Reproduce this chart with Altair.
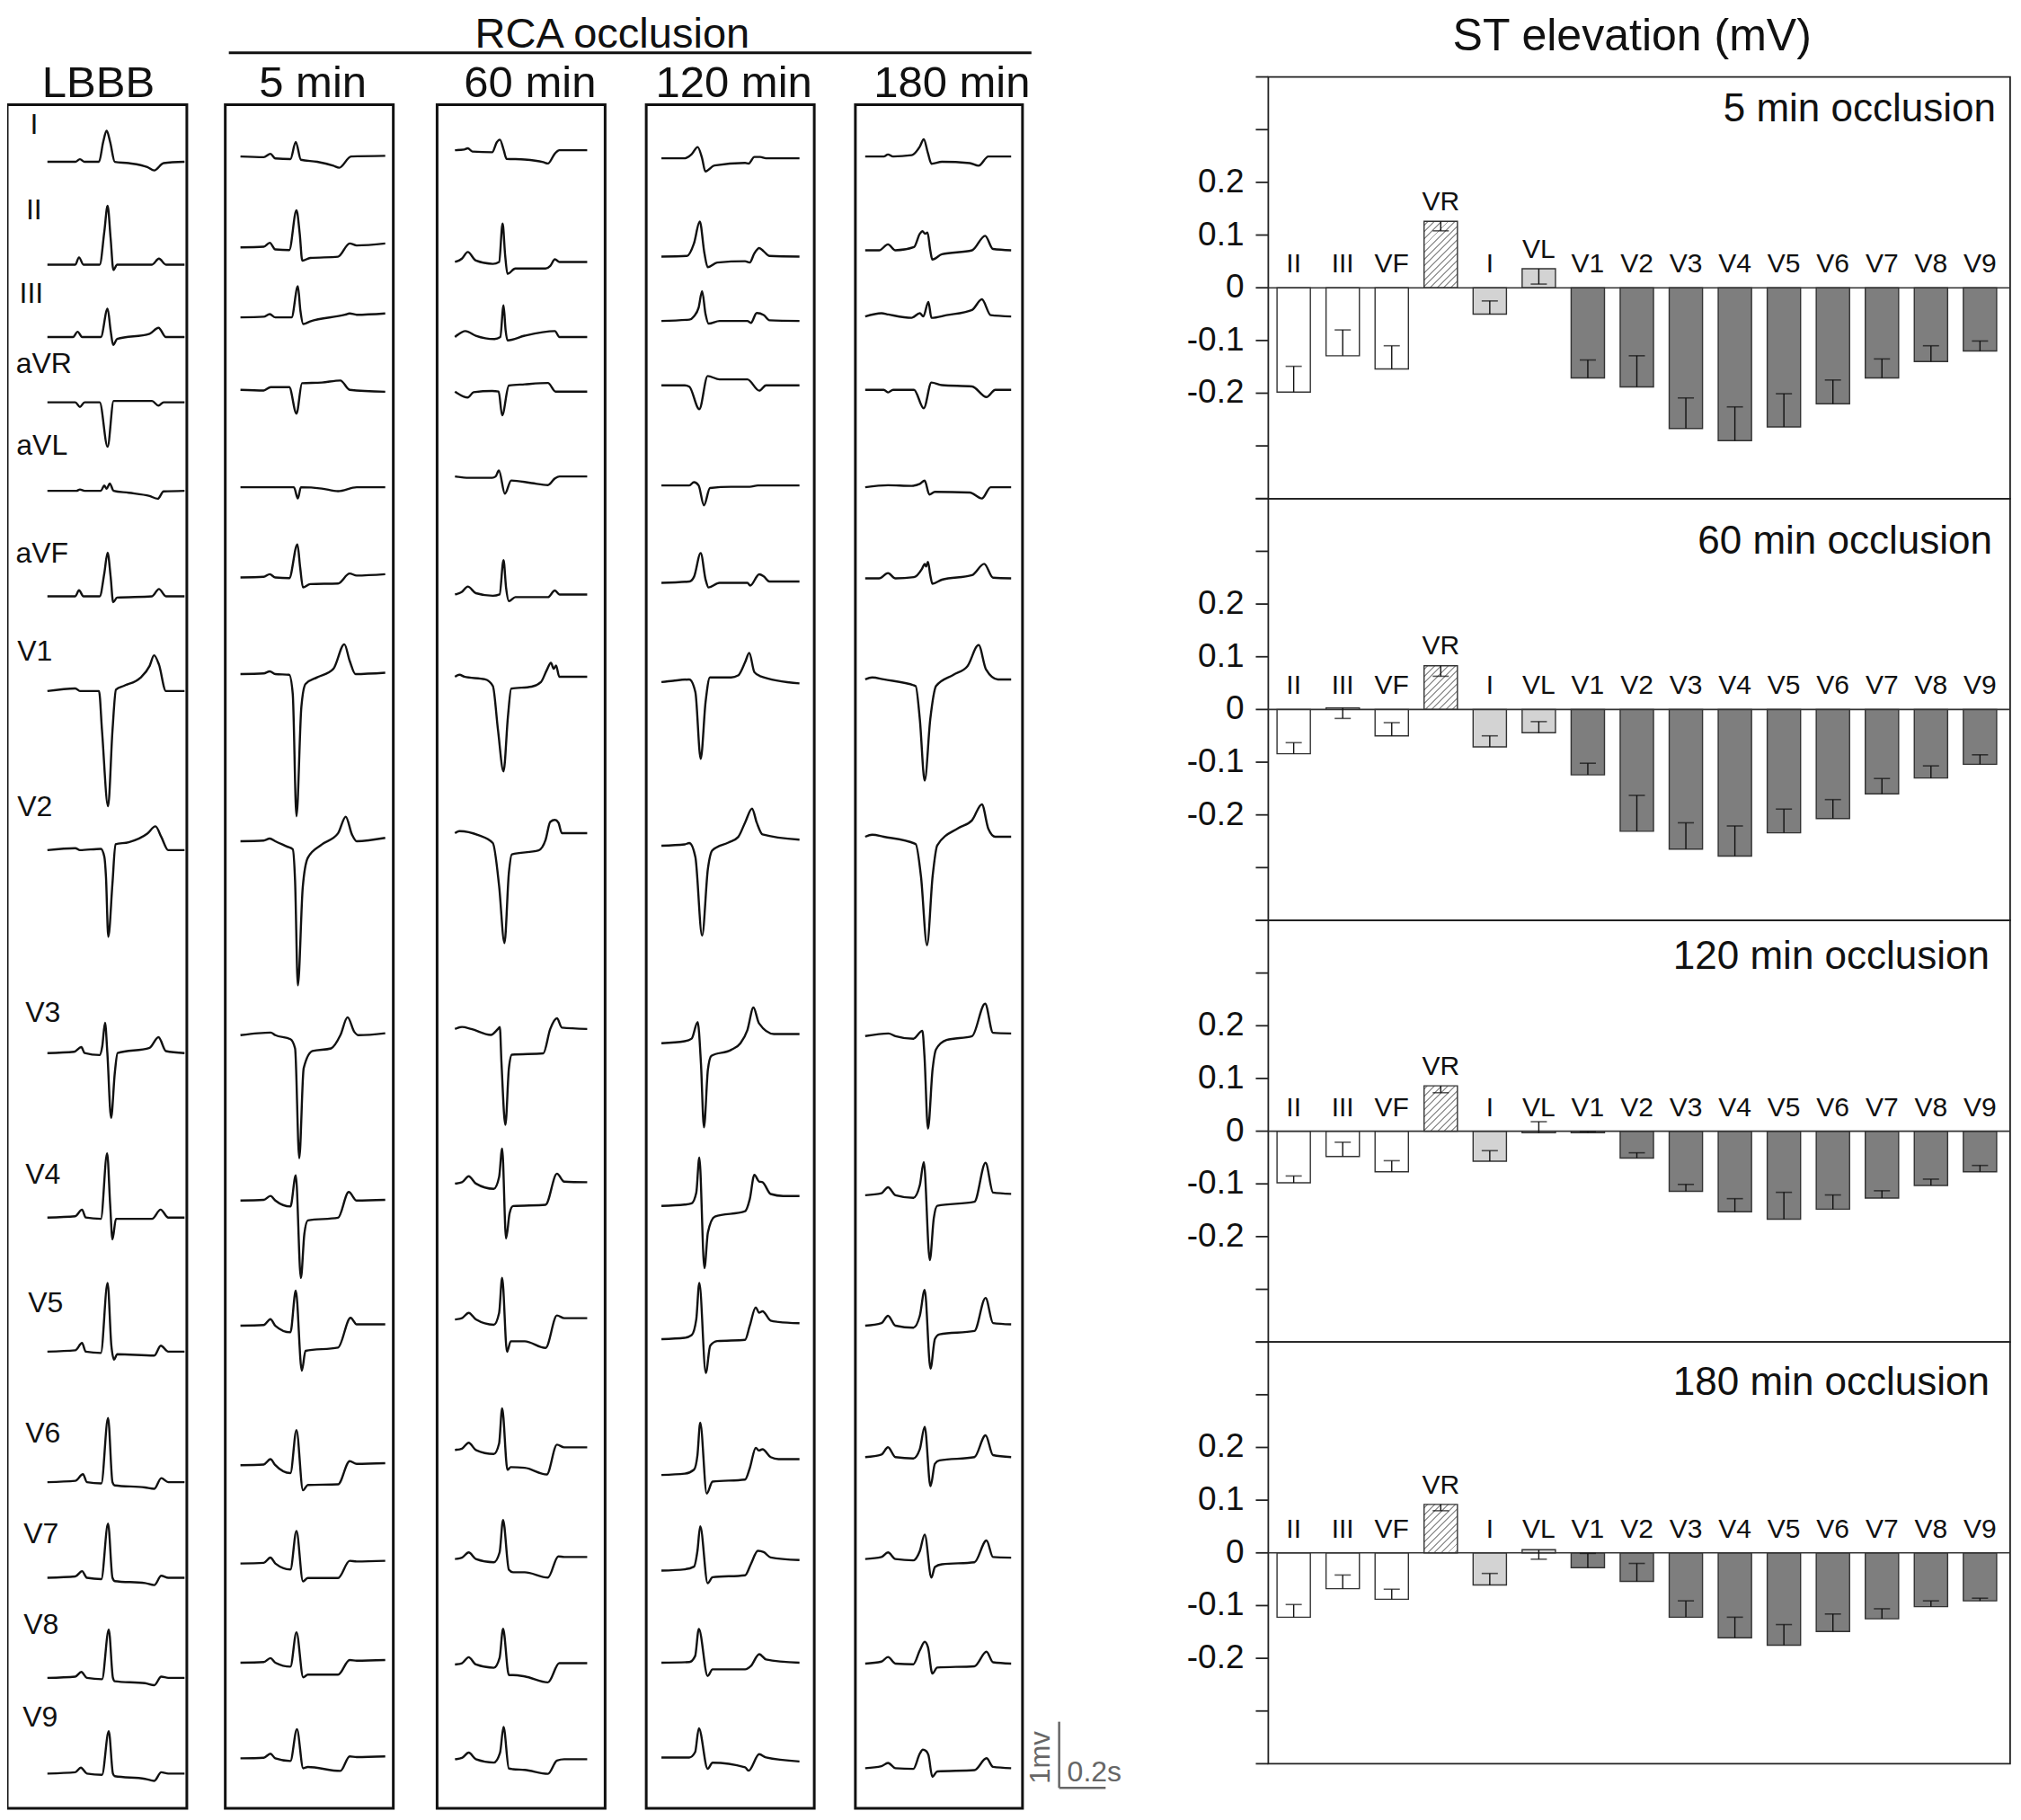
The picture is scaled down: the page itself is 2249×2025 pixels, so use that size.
import altair as alt
import numpy as np
import pandas as pd

# ============================ DATA ============================
# --- ST elevation bar panels (mV) ---
BAR_LEADS = ["II", "III", "VF", "VR", "I", "VL", "V1", "V2", "V3", "V4", "V5", "V6", "V7", "V8", "V9"]
PANEL_TITLES = ["5 min occlusion", "60 min occlusion", "120 min occlusion", "180 min occlusion"]
ST_5 = [-0.198, -0.129, -0.154, 0.126, -0.050, 0.036, -0.171, -0.188, -0.267, -0.290, -0.264, -0.220, -0.171, -0.140, -0.120]
ERR_5 = [-0.149, -0.080, -0.110, 0.108, -0.025, 0.007, -0.137, -0.129, -0.209, -0.226, -0.201, -0.175, -0.135, -0.110, -0.101]
ST_60 = [-0.084, 0.003, -0.050, 0.083, -0.071, -0.044, -0.124, -0.231, -0.265, -0.278, -0.234, -0.207, -0.160, -0.130, -0.104]
ERR_60 = [-0.063, -0.017, -0.025, 0.063, -0.050, -0.023, -0.102, -0.163, -0.215, -0.221, -0.189, -0.171, -0.131, -0.107, -0.086]
ST_120 = [-0.098, -0.048, -0.077, 0.086, -0.057, -0.003, -0.003, -0.051, -0.114, -0.153, -0.167, -0.148, -0.127, -0.103, -0.077]
ERR_120 = [-0.085, -0.021, -0.056, 0.073, -0.037, 0.018, -0.001, -0.041, -0.101, -0.128, -0.116, -0.121, -0.113, -0.091, -0.065]
ST_180 = [-0.122, -0.068, -0.088, 0.092, -0.061, 0.006, -0.028, -0.054, -0.122, -0.161, -0.175, -0.149, -0.125, -0.102, -0.091]
ERR_180 = [-0.098, -0.042, -0.069, 0.080, -0.039, -0.012, -0.001, -0.020, -0.091, -0.122, -0.136, -0.116, -0.106, -0.091, -0.086]
Y_TICKS = [-0.4, -0.3, -0.2, -0.1, 0.0, 0.1, 0.2, 0.3, 0.4]
Y_TICK_LABELS = {-0.2: "-0.2", -0.1: "-0.1", 0.0: "0", 0.1: "0.1", 0.2: "0.2"}

# --- ECG traces: (time s, amplitude mV) key points ---
ECG_LEADS = ["I", "II", "III", "aVR", "aVL", "aVF", "V1", "V2", "V3", "V4", "V5", "V6", "V7", "V8", "V9"]
ECG_COLS = ["LBBB", "5 min", "60 min", "120 min", "180 min"]

ECG_LBBB = {
    "I": [(0, 0), (0.12, 0), (0.14, 0.04), (0.16, 0), (0.222, 0), (0.24, 0.3), (0.255, 0.47), (0.27, 0.3), (0.29, 0.0), (0.35, -0.02), (0.43, -0.08), (0.46, -0.13), (0.5, -0.02), (0.59, 0)],
    "II": [(0, 0), (0.12, 0), (0.136, 0.11), (0.155, 0), (0.225, 0), (0.245, 0.5), (0.259, 0.89), (0.272, 0.4), (0.284, -0.08), (0.3, 0), (0.45, 0.0), (0.48, 0.09), (0.51, 0), (0.59, 0)],
    "III": [(0, 0), (0.11, 0), (0.13, 0.08), (0.15, 0), (0.23, 0), (0.259, 0.43), (0.272, 0.1), (0.283, -0.12), (0.3, -0.03), (0.44, 0.05), (0.478, 0.14), (0.51, 0), (0.59, 0)],
    "aVR": [(0, 0), (0.12, 0), (0.14, -0.07), (0.16, 0), (0.225, 0), (0.259, -0.67), (0.285, 0.02), (0.45, 0.02), (0.478, -0.05), (0.5, 0), (0.59, 0)],
    "aVL": [(0, 0), (0.125, 0), (0.14, 0.02), (0.16, 0), (0.23, 0), (0.245, 0.08), (0.255, 0.03), (0.268, 0.11), (0.285, 0.0), (0.35, -0.03), (0.44, -0.08), (0.475, -0.12), (0.5, -0.01), (0.59, 0)],
    "aVF": [(0, 0), (0.12, 0), (0.136, 0.09), (0.155, 0), (0.225, 0), (0.245, 0.35), (0.259, 0.66), (0.272, 0.3), (0.283, -0.09), (0.3, -0.02), (0.45, 0.0), (0.48, 0.11), (0.51, 0), (0.59, 0)],
    "V1": [(0, 0), (0.12, 0.04), (0.14, 0), (0.222, 0), (0.235, -0.6), (0.261, -1.74), (0.28, -0.6), (0.295, 0.02), (0.33, 0.08), (0.4, 0.2), (0.44, 0.38), (0.459, 0.54), (0.48, 0.4), (0.51, 0), (0.59, 0)],
    "V2": [(0, 0), (0.12, 0.03), (0.14, 0), (0.23, 0.02), (0.245, -0.1), (0.252, -0.4), (0.262, -1.31), (0.28, -0.5), (0.293, 0.09), (0.35, 0.12), (0.43, 0.25), (0.465, 0.36), (0.49, 0.2), (0.52, 0), (0.59, 0)],
    "V3": [(0, 0), (0.115, 0.02), (0.146, 0.09), (0.16, 0), (0.225, -0.03), (0.236, 0.1), (0.248, 0.46), (0.258, 0.0), (0.274, -0.98), (0.29, -0.3), (0.302, 0.0), (0.44, 0.08), (0.478, 0.24), (0.51, 0.03), (0.59, 0)],
    "V4": [(0, 0), (0.12, 0.02), (0.149, 0.12), (0.165, 0), (0.23, -0.02), (0.257, 0.97), (0.27, 0.2), (0.28, -0.33), (0.295, -0.02), (0.45, -0.02), (0.487, 0.12), (0.52, 0), (0.59, 0)],
    "V5": [(0, 0), (0.12, 0.02), (0.149, 0.13), (0.165, 0), (0.23, -0.02), (0.259, 1.04), (0.275, 0.1), (0.287, -0.12), (0.3, -0.04), (0.46, -0.06), (0.488, 0.09), (0.52, 0), (0.59, 0)],
    "V6": [(0, 0), (0.12, 0.02), (0.153, 0.12), (0.17, 0), (0.232, -0.02), (0.261, 0.97), (0.28, 0.0), (0.29, -0.05), (0.42, -0.08), (0.46, -0.1), (0.49, 0.06), (0.52, 0), (0.59, 0)],
    "V7": [(0, 0), (0.12, 0.02), (0.149, 0.1), (0.17, 0), (0.232, -0.02), (0.261, 0.82), (0.28, 0.0), (0.29, -0.05), (0.42, -0.08), (0.46, -0.11), (0.49, 0.03), (0.52, 0), (0.59, 0)],
    "V8": [(0, 0), (0.12, 0.02), (0.146, 0.09), (0.17, 0), (0.235, -0.02), (0.264, 0.73), (0.282, 0.0), (0.29, -0.05), (0.42, -0.08), (0.46, -0.11), (0.49, 0.02), (0.52, 0), (0.59, 0)],
    "V9": [(0, 0), (0.12, 0.02), (0.144, 0.09), (0.17, 0), (0.235, -0.02), (0.264, 0.64), (0.282, 0.0), (0.29, -0.04), (0.42, -0.08), (0.46, -0.11), (0.49, 0.02), (0.52, 0), (0.59, 0)],
}

ECG_5 = {
    "I": [(0, 0), (0.1, -0.01), (0.129, 0.04), (0.15, -0.03), (0.215, -0.04), (0.238, 0.22), (0.26, -0.05), (0.33, -0.08), (0.4, -0.14), (0.425, -0.17), (0.476, 0.0), (0.623, 0.01)],
    "II": [(0, -0.01), (0.1, 0.0), (0.126, 0.06), (0.15, -0.04), (0.21, -0.05), (0.241, 0.55), (0.255, 0.2), (0.266, -0.21), (0.3, -0.17), (0.42, -0.15), (0.47, 0.05), (0.5, 0.02), (0.623, 0.05)],
    "III": [(0, 0), (0.1, 0.01), (0.126, 0.05), (0.15, 0.0), (0.22, 0.0), (0.247, 0.47), (0.258, 0.1), (0.27, -0.1), (0.3, -0.06), (0.45, 0.04), (0.47, 0.06), (0.5, 0.04), (0.623, 0.06)],
    "aVR": [(0, 0), (0.1, -0.01), (0.13, 0.04), (0.15, 0.04), (0.21, 0.04), (0.241, -0.36), (0.265, 0.1), (0.35, 0.11), (0.43, 0.14), (0.47, 0.0), (0.623, -0.03)],
    "aVL": [(0, 0), (0.12, 0.0), (0.23, 0.0), (0.247, -0.17), (0.26, 0.0), (0.35, -0.02), (0.42, -0.06), (0.5, 0.0), (0.623, 0.0)],
    "aVF": [(0, 0), (0.1, 0.01), (0.126, 0.05), (0.15, 0.0), (0.21, -0.01), (0.245, 0.5), (0.257, 0.15), (0.269, -0.15), (0.3, -0.1), (0.42, -0.09), (0.47, 0.06), (0.5, 0.03), (0.623, 0.05)],
    "V1": [(0, 0), (0.1, 0.01), (0.126, 0.04), (0.15, 0.0), (0.21, -0.01), (0.225, -0.3), (0.241, -2.15), (0.262, -0.5), (0.28, -0.15), (0.33, -0.05), (0.4, 0.08), (0.447, 0.45), (0.47, 0.2), (0.495, 0.0), (0.623, 0.02)],
    "V2": [(0, 0), (0.1, 0.01), (0.126, 0.04), (0.15, 0.0), (0.2, -0.08), (0.225, -0.12), (0.235, -0.6), (0.247, -2.18), (0.268, -0.7), (0.29, -0.25), (0.35, -0.05), (0.42, 0.12), (0.453, 0.37), (0.48, 0.1), (0.5, 0.0), (0.623, 0.05)],
    "V3": [(0, 0), (0.075, 0.03), (0.13, 0.04), (0.15, 0.0), (0.215, -0.06), (0.235, -0.2), (0.253, -1.86), (0.272, -0.5), (0.31, -0.24), (0.39, -0.2), (0.43, 0.0), (0.461, 0.27), (0.49, 0.05), (0.508, 0.0), (0.623, 0.03)],
    "V4": [(0, 0), (0.1, 0.01), (0.129, 0.07), (0.15, 0.0), (0.215, -0.09), (0.238, 0.38), (0.26, -1.17), (0.275, -0.5), (0.29, -0.3), (0.42, -0.26), (0.466, 0.13), (0.5, 0.0), (0.623, 0.01)],
    "V5": [(0, 0), (0.1, 0.01), (0.129, 0.1), (0.15, 0.0), (0.215, -0.1), (0.238, 0.53), (0.264, -0.68), (0.28, -0.38), (0.42, -0.33), (0.474, 0.12), (0.5, 0.02), (0.623, 0.02)],
    "V6": [(0, 0), (0.1, 0.01), (0.129, 0.09), (0.15, 0.0), (0.215, -0.12), (0.241, 0.53), (0.269, -0.38), (0.29, -0.3), (0.42, -0.29), (0.47, 0.06), (0.5, 0.02), (0.623, 0.03)],
    "V7": [(0, 0), (0.1, 0.01), (0.129, 0.09), (0.15, 0.0), (0.215, -0.09), (0.241, 0.49), (0.269, -0.27), (0.29, -0.22), (0.42, -0.22), (0.47, 0.04), (0.5, 0.03), (0.623, 0.04)],
    "V8": [(0, 0), (0.1, 0.01), (0.129, 0.07), (0.15, 0.0), (0.215, -0.06), (0.241, 0.46), (0.27, -0.22), (0.29, -0.18), (0.42, -0.18), (0.47, 0.04), (0.5, 0.03), (0.623, 0.04)],
    "V9": [(0, 0), (0.1, 0.01), (0.129, 0.07), (0.15, 0.0), (0.215, -0.04), (0.243, 0.44), (0.27, -0.15), (0.29, -0.13), (0.43, -0.19), (0.47, 0.03), (0.5, 0.02), (0.623, 0.03)],
}

ECG_60 = {
    "I": [(0, 0), (0.04, 0.01), (0.055, 0.03), (0.075, -0.02), (0.16, -0.03), (0.18, 0.12), (0.193, 0.16), (0.21, 0.0), (0.222, -0.13), (0.3, -0.14), (0.38, -0.18), (0.4, -0.2), (0.43, -0.05), (0.449, 0.0), (0.569, 0.0)],
    "II": [(0, 0), (0.03, 0.05), (0.055, 0.15), (0.09, 0.02), (0.163, -0.03), (0.19, 0.0), (0.205, 0.58), (0.216, 0.1), (0.226, -0.18), (0.26, -0.1), (0.39, -0.1), (0.41, -0.06), (0.43, 0.04), (0.45, 0.0), (0.569, 0.0)],
    "III": [(0, 0), (0.045, 0.09), (0.09, 0.02), (0.17, -0.03), (0.195, 0.0), (0.209, 0.48), (0.218, 0.1), (0.226, -0.05), (0.3, 0.02), (0.43, 0.09), (0.45, 0.0), (0.569, 0.0)],
    "aVR": [(0, 0), (0.055, -0.09), (0.08, -0.01), (0.16, 0.01), (0.188, 0.0), (0.203, -0.36), (0.232, 0.09), (0.3, 0.11), (0.4, 0.13), (0.433, 0.0), (0.569, 0.0)],
    "aVL": [(0, 0), (0.06, -0.02), (0.16, -0.02), (0.175, 0.0), (0.189, 0.09), (0.215, -0.26), (0.242, -0.06), (0.33, -0.1), (0.4, -0.13), (0.43, -0.03), (0.45, 0.0), (0.569, 0.0)],
    "aVF": [(0, 0), (0.03, 0.04), (0.055, 0.12), (0.09, 0.02), (0.163, -0.02), (0.192, 0.0), (0.209, 0.52), (0.22, 0.1), (0.232, -0.1), (0.26, -0.04), (0.4, -0.04), (0.43, 0.06), (0.45, 0.0), (0.569, 0.0)],
    "V1": [(0, 0), (0.02, 0.03), (0.04, 0.0), (0.13, -0.04), (0.163, -0.14), (0.185, -0.8), (0.209, -1.43), (0.228, -0.6), (0.242, -0.18), (0.33, -0.15), (0.37, -0.08), (0.395, 0.1), (0.413, 0.21), (0.425, 0.12), (0.435, 0.17), (0.449, 0.0), (0.569, 0.0)],
    "V2": [(0, 0), (0.02, 0.03), (0.1, -0.03), (0.163, -0.15), (0.19, -0.8), (0.213, -1.66), (0.232, -0.6), (0.245, -0.32), (0.36, -0.26), (0.39, -0.1), (0.41, 0.17), (0.43, 0.2), (0.445, 0.16), (0.46, 0.0), (0.569, 0.0)],
    "V3": [(0, 0), (0.03, 0.03), (0.07, 0.0), (0.154, -0.09), (0.185, 0.0), (0.193, 0.03), (0.2, -0.5), (0.217, -1.45), (0.232, -0.6), (0.245, -0.39), (0.38, -0.37), (0.41, 0.0), (0.439, 0.16), (0.46, 0.02), (0.569, 0.0)],
    "V4": [(0, 0), (0.03, 0.02), (0.059, 0.11), (0.09, 0.0), (0.167, -0.08), (0.19, 0.1), (0.203, 0.53), (0.22, -0.83), (0.235, -0.45), (0.25, -0.34), (0.39, -0.32), (0.439, 0.15), (0.47, 0.03), (0.569, 0.02)],
    "V5": [(0, 0), (0.03, 0.02), (0.059, 0.1), (0.09, 0.0), (0.167, -0.08), (0.19, 0.1), (0.203, 0.63), (0.224, -0.49), (0.24, -0.33), (0.3, -0.33), (0.39, -0.43), (0.439, 0.06), (0.47, 0.02), (0.569, 0.02)],
    "V6": [(0, 0), (0.03, 0.02), (0.059, 0.11), (0.09, 0.0), (0.167, -0.06), (0.19, 0.1), (0.203, 0.63), (0.226, -0.3), (0.24, -0.26), (0.3, -0.27), (0.395, -0.37), (0.439, 0.08), (0.47, 0.04), (0.569, 0.04)],
    "V7": [(0, 0), (0.03, 0.02), (0.059, 0.1), (0.09, 0.0), (0.167, -0.05), (0.192, 0.1), (0.207, 0.59), (0.232, -0.16), (0.25, -0.2), (0.3, -0.2), (0.4, -0.28), (0.445, 0.04), (0.47, 0.03), (0.569, 0.03)],
    "V8": [(0, 0), (0.03, 0.02), (0.059, 0.11), (0.09, 0.0), (0.167, -0.05), (0.192, 0.1), (0.207, 0.54), (0.232, -0.16), (0.25, -0.16), (0.3, -0.18), (0.4, -0.27), (0.449, 0.02), (0.47, 0.02), (0.569, 0.02)],
    "V9": [(0, 0), (0.03, 0.02), (0.059, 0.1), (0.09, 0.0), (0.167, -0.05), (0.194, 0.1), (0.209, 0.49), (0.232, -0.14), (0.25, -0.15), (0.3, -0.16), (0.4, -0.22), (0.439, -0.02), (0.47, 0.0), (0.569, 0.0)],
}

ECG_120 = {
    "I": [(0, 0), (0.1, 0.0), (0.13, 0.06), (0.156, 0.17), (0.175, 0.0), (0.189, -0.2), (0.228, -0.11), (0.36, -0.07), (0.375, -0.08), (0.4, 0.02), (0.425, 0.02), (0.45, 0.0), (0.594, 0.0)],
    "II": [(0, 0), (0.11, 0.01), (0.14, 0.2), (0.165, 0.53), (0.185, 0.05), (0.199, -0.16), (0.24, -0.09), (0.36, -0.07), (0.38, -0.09), (0.4, 0.05), (0.421, 0.13), (0.44, 0.08), (0.465, 0.01), (0.594, 0.0)],
    "III": [(0, 0), (0.12, 0.02), (0.14, 0.07), (0.16, 0.2), (0.175, 0.45), (0.19, 0.1), (0.203, -0.04), (0.25, 0.0), (0.37, 0.0), (0.385, -0.03), (0.41, 0.12), (0.44, 0.09), (0.465, 0.01), (0.594, 0.0)],
    "aVR": [(0, 0), (0.1, 0.0), (0.12, -0.02), (0.163, -0.36), (0.199, 0.14), (0.25, 0.09), (0.37, 0.09), (0.421, -0.08), (0.45, 0.0), (0.594, 0.0)],
    "aVL": [(0, 0), (0.12, 0.0), (0.14, 0.05), (0.16, 0.0), (0.183, -0.3), (0.209, -0.04), (0.3, -0.02), (0.38, -0.02), (0.415, 0.0), (0.594, 0.0)],
    "aVF": [(0, 0), (0.12, 0.02), (0.14, 0.09), (0.169, 0.45), (0.19, 0.05), (0.203, -0.07), (0.25, 0.0), (0.37, 0.0), (0.382, -0.04), (0.421, 0.13), (0.44, 0.1), (0.465, 0.02), (0.594, 0.02)],
    "V1": [(0, 0), (0.05, 0.02), (0.12, 0.04), (0.146, -0.15), (0.169, -1.16), (0.19, -0.3), (0.209, 0.07), (0.3, 0.07), (0.33, 0.1), (0.36, 0.3), (0.378, 0.44), (0.4, 0.15), (0.425, 0.09), (0.594, -0.02)],
    "V2": [(0, 0), (0.1, 0.02), (0.12, 0.04), (0.146, -0.17), (0.175, -1.36), (0.2, -0.35), (0.219, -0.07), (0.29, 0.05), (0.33, 0.13), (0.36, 0.35), (0.39, 0.56), (0.41, 0.35), (0.435, 0.17), (0.594, 0.09)],
    "V3": [(0, 0), (0.1, 0.03), (0.13, 0.07), (0.156, 0.32), (0.17, -0.3), (0.183, -1.27), (0.2, -0.4), (0.215, -0.19), (0.3, -0.1), (0.34, 0.0), (0.37, 0.2), (0.396, 0.54), (0.42, 0.3), (0.484, 0.14), (0.594, 0.14)],
    "V4": [(0, 0), (0.1, 0.02), (0.13, 0.04), (0.15, 0.2), (0.163, 0.73), (0.185, -0.94), (0.2, -0.4), (0.23, -0.16), (0.36, -0.08), (0.38, 0.1), (0.4, 0.47), (0.42, 0.37), (0.435, 0.36), (0.47, 0.18), (0.524, 0.15), (0.594, 0.15)],
    "V5": [(0, 0), (0.1, 0.02), (0.13, 0.06), (0.15, 0.3), (0.163, 0.85), (0.191, -0.51), (0.21, -0.1), (0.24, -0.03), (0.36, -0.01), (0.38, 0.2), (0.406, 0.48), (0.42, 0.4), (0.435, 0.42), (0.47, 0.28), (0.504, 0.26), (0.594, 0.24)],
    "V6": [(0, 0), (0.1, 0.02), (0.14, 0.08), (0.155, 0.3), (0.167, 0.79), (0.195, -0.28), (0.22, -0.1), (0.36, -0.07), (0.38, 0.1), (0.406, 0.41), (0.42, 0.37), (0.435, 0.39), (0.47, 0.27), (0.504, 0.24), (0.594, 0.24)],
    "V7": [(0, 0), (0.1, 0.02), (0.14, 0.06), (0.155, 0.3), (0.167, 0.67), (0.199, -0.19), (0.22, -0.1), (0.36, -0.07), (0.385, 0.1), (0.415, 0.3), (0.44, 0.28), (0.47, 0.2), (0.594, 0.16)],
    "V8": [(0, 0), (0.12, 0.01), (0.145, 0.1), (0.161, 0.51), (0.199, -0.2), (0.22, -0.1), (0.36, -0.1), (0.385, -0.05), (0.421, 0.13), (0.45, 0.05), (0.594, 0.0)],
    "V9": [(0, 0), (0.12, 0.0), (0.145, 0.08), (0.161, 0.44), (0.199, -0.17), (0.22, -0.08), (0.36, -0.15), (0.375, -0.2), (0.421, 0.05), (0.45, 0.0), (0.594, -0.06)],
}

ECG_180 = {
    "I": [(0, 0), (0.08, 0.0), (0.098, 0.03), (0.12, 0.0), (0.2, 0.02), (0.235, 0.15), (0.252, 0.26), (0.27, 0.05), (0.285, -0.11), (0.33, -0.08), (0.45, -0.1), (0.488, -0.14), (0.53, 0.0), (0.628, 0.0)],
    "II": [(0, 0), (0.06, 0.0), (0.098, 0.09), (0.13, 0.0), (0.21, 0.05), (0.235, 0.25), (0.246, 0.29), (0.258, 0.25), (0.268, 0.27), (0.28, 0.0), (0.289, -0.14), (0.33, -0.06), (0.46, 0.0), (0.516, 0.22), (0.55, 0.02), (0.628, 0.0)],
    "III": [(0, 0), (0.07, 0.05), (0.1, 0.03), (0.2, -0.02), (0.235, 0.05), (0.25, 0.0), (0.272, 0.22), (0.285, -0.02), (0.35, 0.02), (0.46, 0.1), (0.502, 0.26), (0.54, 0.02), (0.628, 0.0)],
    "aVR": [(0, 0), (0.08, 0.0), (0.098, -0.04), (0.12, 0.0), (0.21, 0.0), (0.252, -0.28), (0.285, 0.11), (0.33, 0.07), (0.46, 0.05), (0.522, -0.11), (0.56, 0.0), (0.628, 0.0)],
    "aVL": [(0, 0), (0.098, 0.03), (0.2, 0.02), (0.235, 0.05), (0.256, 0.1), (0.276, -0.11), (0.3, -0.07), (0.45, -0.08), (0.502, -0.17), (0.54, 0.0), (0.628, 0.0)],
    "aVF": [(0, 0), (0.06, 0.0), (0.098, 0.08), (0.13, 0.0), (0.21, 0.02), (0.245, 0.15), (0.256, 0.22), (0.262, 0.18), (0.27, 0.25), (0.28, 0.05), (0.289, -0.08), (0.33, -0.02), (0.46, 0.05), (0.512, 0.22), (0.55, 0.01), (0.628, 0.0)],
    "V1": [(0, 0), (0.03, 0.03), (0.08, 0.0), (0.217, -0.1), (0.235, -0.6), (0.256, -1.53), (0.28, -0.6), (0.305, -0.1), (0.38, 0.07), (0.44, 0.2), (0.488, 0.52), (0.52, 0.15), (0.571, 0.0), (0.628, 0.0)],
    "V2": [(0, 0), (0.03, 0.03), (0.08, 0.0), (0.217, -0.11), (0.24, -0.6), (0.266, -1.64), (0.29, -0.6), (0.31, -0.13), (0.4, 0.13), (0.46, 0.25), (0.502, 0.49), (0.53, 0.12), (0.56, 0.0), (0.628, 0.0)],
    "V3": [(0, 0), (0.1, 0.04), (0.13, 0.0), (0.207, -0.04), (0.246, 0.08), (0.255, -0.3), (0.27, -1.4), (0.29, -0.5), (0.305, -0.2), (0.35, -0.06), (0.46, 0.0), (0.516, 0.49), (0.55, 0.05), (0.628, 0.04)],
    "V4": [(0, 0), (0.07, 0.03), (0.098, 0.12), (0.13, 0.0), (0.207, -0.04), (0.235, 0.15), (0.252, 0.5), (0.278, -0.98), (0.295, -0.35), (0.31, -0.16), (0.47, -0.1), (0.518, 0.49), (0.55, 0.04), (0.628, 0.02)],
    "V5": [(0, 0), (0.07, 0.04), (0.098, 0.15), (0.13, 0.0), (0.207, -0.03), (0.235, 0.15), (0.256, 0.54), (0.281, -0.65), (0.3, -0.2), (0.32, -0.13), (0.47, -0.08), (0.518, 0.42), (0.55, 0.04), (0.628, 0.02)],
    "V6": [(0, 0), (0.07, 0.04), (0.098, 0.15), (0.13, 0.0), (0.207, -0.02), (0.235, 0.12), (0.256, 0.46), (0.281, -0.44), (0.3, -0.1), (0.32, -0.05), (0.47, 0.0), (0.518, 0.33), (0.55, 0.03), (0.628, 0.0)],
    "V7": [(0, 0), (0.07, 0.03), (0.098, 0.1), (0.13, 0.0), (0.207, -0.02), (0.235, 0.12), (0.256, 0.37), (0.285, -0.28), (0.3, -0.12), (0.33, -0.08), (0.47, -0.05), (0.522, 0.28), (0.55, 0.03), (0.628, 0.02)],
    "V8": [(0, 0), (0.07, 0.03), (0.098, 0.1), (0.13, 0.0), (0.207, -0.01), (0.235, 0.2), (0.256, 0.33), (0.27, 0.25), (0.289, -0.15), (0.31, -0.06), (0.47, -0.04), (0.522, 0.18), (0.55, 0.02), (0.628, 0.0)],
    "V9": [(0, 0), (0.07, 0.03), (0.098, 0.08), (0.13, 0.0), (0.207, -0.01), (0.235, 0.22), (0.248, 0.28), (0.262, 0.26), (0.272, 0.2), (0.289, -0.13), (0.31, -0.05), (0.47, -0.03), (0.522, 0.15), (0.55, 0.02), (0.628, 0.0)],
}
SCALE_BAR_S = 0.2
SCALE_BAR_MV = 1.0

# ============================ LAYOUT / STYLE ============================
S = 0.9946
def cx(o):
    return (o - 6.0) * S
def cy(o):
    return (o - 4.0) * S

W, H = 2231, 2007
PXS = 260 * S     # pixels per second
PXMV = 74 * S     # pixels per mV
FONT = "Liberation Sans"

TRACE_X0 = [51, 267, 507, 738, 966]
BASELINES = [
    [177, 292, 373, 446, 545, 663, 769, 947, 1174, 1358, 1508, 1654, 1761, 1873, 1980],
    [171, 272, 351, 432, 541, 642, 750, 937, 1154, 1339, 1479, 1635, 1745, 1856, 1963],
    [164, 289, 373, 434, 529, 661, 753, 928, 1147, 1320, 1472, 1618, 1740, 1858, 1964],
    [173, 283, 355, 427, 539, 648, 759, 942, 1163, 1345, 1494, 1646, 1753, 1856, 1962],
    [171, 276, 350, 432, 541, 643, 756, 932, 1155, 1333, 1479, 1626, 1740, 1857, 1974],
]
BOX_X = [(6, 207), (250, 438), (487, 675), (721, 909), (955, 1142)]
BOX_Y = (113, 2019)
HEADER_X = [108, 348, 591, 819, 1063]
HEADER_BASE = 99.5          # chart px
LEAD_LABEL_POS = [(36, 136), (36, 231), (33, 325), (47, 403), (45, 495), (45, 615), (37, 725), (37, 899),
                  (46, 1129), (46, 1310), (49, 1454), (46, 1600), (44, 1712), (44, 1814), (43, 1917)]

P_LEFT, P_RIGHT = 1417, 2247
P_TOP, P_H = 82, (1969 - 82) / 4.0
BAR_X0, BAR_X1 = 1418, 2240.7
PAD_IN = 0.32
PANEL_TITLE_POS = [(2231, 50), (2227, 62), (2224, 54), (2224, 59)]
BAR_STYLE = ["w", "w", "w", "h", "l", "l", "d", "d", "d", "d", "d", "d", "d", "d", "d"]
FILL_DOMAIN = ["w", "l", "d"]
FILL_RANGE = ["#ffffff", "#d3d3d3", "#7e7e7e"]
HATCH_GRAY = "#9c9c9c"
LINE_W = 1.4

# ============================ BUILD ============================
layers = []
one = pd.DataFrame({"k": [0]})

# --- ECG column boxes ---
boxes = pd.DataFrame({"x": [cx(a) for a, b in BOX_X], "x2": [cx(b) for a, b in BOX_X],
                      "y": [cy(BOX_Y[0])] * 5, "y2": [cy(BOX_Y[1])] * 5})
layers.append(alt.Chart(boxes).mark_rect(fill="white", fillOpacity=0, stroke="#111", strokeWidth=3).encode(
    x=alt.X("x:Q", scale=None), x2="x2:Q", y=alt.Y("y:Q", scale=None), y2="y2:Q"))

# --- ECG traces ---
rows = []
for ci, (col, traces) in enumerate(zip(ECG_COLS, [ECG_LBBB, ECG_5, ECG_60, ECG_120, ECG_180])):
    for li, lead in enumerate(ECG_LEADS):
        base = BASELINES[ci][li]
        for k, (t, v) in enumerate(traces[lead]):
            rows.append({"trace": col + "|" + lead, "i": k,
                         "sec": cx(TRACE_X0[ci]) / PXS + t,
                         "mv": v - cy(base) / PXMV})
ecg = pd.DataFrame(rows)
ecg_x = alt.Scale(domain=[0, W / PXS], nice=False, zero=False)
ecg_y = alt.Scale(domain=[-H / PXMV, 0], nice=False, zero=False)
layers.append(alt.Chart(ecg).mark_line(color="#111", strokeWidth=2.4, interpolate="monotone").encode(
    x=alt.X("sec:Q", scale=ecg_x, axis=None), y=alt.Y("mv:Q", scale=ecg_y, axis=None),
    detail="trace:N", order="i:Q"))

# --- scale bar (1 mV / 0.2 s) ---
s0 = cx(1183) / PXS
m0 = -cy(1996) / PXMV
sb = pd.DataFrame({"s": [s0], "s2": [s0 + SCALE_BAR_S], "m": [m0], "m2": [m0 + SCALE_BAR_MV]})
layers.append(alt.Chart(sb).mark_rule(color="#666", strokeWidth=2.5).encode(
    x=alt.X("s:Q", scale=ecg_x, axis=None), y=alt.Y("m:Q", scale=ecg_y, axis=None), y2="m2:Q"))
layers.append(alt.Chart(sb).mark_rule(color="#666", strokeWidth=2.5).encode(
    x=alt.X("s:Q", scale=ecg_x, axis=None), x2="s2:Q", y=alt.Y("m:Q", scale=ecg_y, axis=None)))
layers.append(alt.Chart(one).mark_text(font=FONT, fontSize=31, color="#666", angle=270, align="center",
                                       baseline="middle").encode(
    x=alt.value(cx(1163)), y=alt.value(cy(1962)), text=alt.value("1mv")))
layers.append(alt.Chart(one).mark_text(font=FONT, fontSize=32, color="#666", align="left",
                                       baseline="alphabetic").encode(
    x=alt.value(cx(1192)), y=alt.value(cy(1989)), text=alt.value("0.2s")))

# --- headers ---
heads = pd.DataFrame({"x": [cx(v) for v in HEADER_X], "y": [HEADER_BASE] * 5, "t": ECG_COLS})
layers.append(alt.Chart(heads).mark_text(font=FONT, fontSize=49, color="#111", align="center",
                                         baseline="alphabetic").encode(
    x=alt.X("x:Q", scale=None), y=alt.Y("y:Q", scale=None), text="t:N"))
layers.append(alt.Chart(one).mark_text(font=FONT, fontSize=47, color="#111", align="center",
                                       baseline="alphabetic").encode(
    x=alt.value(cx(683)), y=alt.value(44.5), text=alt.value("RCA occlusion")))
layers.append(alt.Chart(one).mark_text(font=FONT, fontSize=50, color="#111", align="center",
                                       baseline="alphabetic").encode(
    x=alt.value(cx(1824)), y=alt.value(47.5), text=alt.value("ST elevation (mV)")))
layers.append(alt.Chart(one).mark_rule(color="#111", strokeWidth=3).encode(
    x=alt.value(cx(254)), x2=alt.value(cx(1152)), y=alt.value(cy(55))))

# --- ECG lead labels ---
ll = pd.DataFrame({"x": [cx(p[0]) for p in LEAD_LABEL_POS], "y": [cy(p[1]) for p in LEAD_LABEL_POS],
                   "t": ECG_LEADS})
layers.append(alt.Chart(ll).mark_text(font=FONT, fontSize=32, color="#111", align="center",
                                      baseline="middle").encode(
    x=alt.X("x:Q", scale=None), y=alt.Y("y:Q", scale=None), text="t:N"))

# --- bar panels ---
frames = pd.DataFrame({"x": [cx(P_LEFT)] * 4, "x2": [cx(P_RIGHT)] * 4,
                       "y": [cy(P_TOP + i * P_H) for i in range(4)],
                       "y2": [cy(P_TOP + (i + 1) * P_H) for i in range(4)]})
layers.append(alt.Chart(frames).mark_rect(fill="white", fillOpacity=0, stroke="#222", strokeWidth=1.8).encode(
    x=alt.X("x:Q", scale=None), x2="x2:Q", y=alt.Y("y:Q", scale=None), y2="y2:Q"))

step = (cx(BAR_X1) - cx(BAR_X0)) / (len(BAR_LEADS))
bandw = step * (1 - PAD_IN)
px_per_unit = P_H * S / 0.8


def hatch(w, h, period=5.4, line=1.4):
    r = h / w
    denom = w * (1 + r * r)
    dt = np.sqrt(2) * period / denom
    lt = np.sqrt(2) * line / denom
    tmax = (1 + r) / (1 + r * r)
    stops = [{"offset": 0, "color": "white"}]
    s = dt * 0.4
    while s + lt < min(tmax, 1.0):
        stops += [{"offset": round(s, 5), "color": "white"}, {"offset": round(s, 5), "color": HATCH_GRAY},
                  {"offset": round(s + lt, 5), "color": HATCH_GRAY}, {"offset": round(s + lt, 5), "color": "white"}]
        s += dt
    stops.append({"offset": 1, "color": "white"})
    return {"gradient": "linear", "x1": 0, "y1": 0, "x2": 1, "y2": float(r), "stops": stops}


PANELS = [(ST_5, ERR_5), (ST_60, ERR_60), (ST_120, ERR_120), (ST_180, ERR_180)]
ticks = pd.DataFrame({"tv": Y_TICKS})
tlabs = pd.DataFrame({"tv": list(Y_TICK_LABELS.keys()), "lab": list(Y_TICK_LABELS.values())})

for pi, (vals, errs) in enumerate(PANELS):
    top = P_TOP + pi * P_H
    bot = top + P_H
    ysc = alt.Scale(domain=[-0.4, 0.4], range=[cy(bot), cy(top)], nice=False, zero=False)
    xsc = alt.Scale(domain=BAR_LEADS, range=[cx(BAR_X0), cx(BAR_X1)], paddingInner=PAD_IN,
                    paddingOuter=PAD_IN / 2)
    df = pd.DataFrame({"lead": BAR_LEADS, "v": vals, "err": errs, "zero": 0.0, "grp": BAR_STYLE})
    df["ly"] = np.where(df["v"] > 0.01, df["v"] + 0.021, 0.029)

    # ticks and tick labels
    layers.append(alt.Chart(ticks).mark_rule(color="#222", strokeWidth=1.8).encode(
        y=alt.Y("tv:Q", scale=ysc, axis=None), x=alt.value(cx(P_LEFT - 14)), x2=alt.value(cx(P_LEFT))))
    layers.append(alt.Chart(tlabs).mark_text(font=FONT, fontSize=37, color="#111", align="right",
                                             baseline="middle").encode(
        y=alt.Y("tv:Q", scale=ysc, axis=None), x=alt.value(cx(P_LEFT - 27)), text="lab:N"))

    # bars
    layers.append(alt.Chart(df).transform_filter(alt.datum.grp != "h").mark_bar(
        stroke="#333", strokeWidth=LINE_W).encode(
        x=alt.X("lead:N", scale=xsc, axis=None, sort=BAR_LEADS),
        y=alt.Y("v:Q", scale=ysc, axis=None), y2="zero:Q",
        fill=alt.Fill("grp:N", scale=alt.Scale(domain=FILL_DOMAIN, range=FILL_RANGE), legend=None)))
    vr = vals[BAR_STYLE.index("h")]
    layers.append(alt.Chart(df).transform_filter(alt.datum.grp == "h").mark_bar(
        stroke="#333", strokeWidth=LINE_W, fill=hatch(bandw, abs(vr) * px_per_unit)).encode(
        x=alt.X("lead:N", scale=xsc, axis=None, sort=BAR_LEADS),
        y=alt.Y("v:Q", scale=ysc, axis=None), y2="zero:Q"))

    # zero line
    layers.append(alt.Chart(pd.DataFrame({"z": [0.0]})).mark_rule(color="#333", strokeWidth=1.6).encode(
        y=alt.Y("z:Q", scale=ysc, axis=None), x=alt.value(cx(P_LEFT)), x2=alt.value(cx(P_RIGHT))))

    # error whiskers and caps
    layers.append(alt.Chart(df).mark_rule(color="#111", strokeWidth=LINE_W).encode(
        x=alt.X("lead:N", scale=xsc, axis=None, sort=BAR_LEADS, bandPosition=0.5),
        y=alt.Y("v:Q", scale=ysc, axis=None), y2="err:Q"))
    layers.append(alt.Chart(df).mark_tick(color="#111", orient="horizontal", size=18, thickness=1.6).encode(
        x=alt.X("lead:N", scale=xsc, axis=None, sort=BAR_LEADS),
        y=alt.Y("err:Q", scale=ysc, axis=None)))

    # lead labels
    layers.append(alt.Chart(df).mark_text(font=FONT, fontSize=30, color="#111", align="center",
                                          baseline="alphabetic").encode(
        x=alt.X("lead:N", scale=xsc, axis=None, sort=BAR_LEADS),
        y=alt.Y("ly:Q", scale=ysc, axis=None), text="lead:N"))

    # panel title
    tx, ty = PANEL_TITLE_POS[pi]
    layers.append(alt.Chart(one).mark_text(font=FONT, fontSize=44, color="#111", align="right",
                                           baseline="alphabetic").encode(
        x=alt.value(cx(tx)), y=alt.value(cy(top + ty)), text=alt.value(PANEL_TITLES[pi])))

chart = alt.layer(*layers).resolve_scale(x="independent", y="independent").properties(
    width=W, height=H, padding=0, autosize=alt.AutoSizeParams(type="none"), background="white"
).configure_view(stroke=None)

chart.save("out.html", embed_options={"renderer": "svg", "actions": False})
